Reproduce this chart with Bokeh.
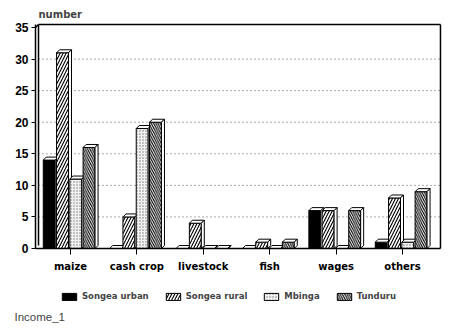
from bokeh.plotting import figure
from bokeh.models import (Range1d, FixedTicker, Legend, LegendItem, Label,
                          ColumnDataSource)
from bokeh.embed import file_html
from bokeh.resources import INLINE

categories = ["maize", "cash crop", "livestock", "fish", "wages", "others"]
series = ["Songea urban", "Songea rural", "Mbinga", "Tunduru"]
songea_urban = [14, 0, 0, 0, 6, 1]
songea_rural = [31, 5, 4, 1, 6, 8]
mbinga = [11, 19, 0, 0, 0, 1]
tunduru = [16, 20, 0, 1, 6, 9]
y_ticks = [0, 5, 10, 15, 20, 25, 30, 35]
grid_ticks = [5, 10, 15, 20, 25, 30]
values = [songea_urban, songea_rural, mbinga, tunduru]

styles = [
    dict(fill_color="black"),
    dict(fill_color="white", hatch_pattern="/", hatch_scale=6, hatch_weight=1.1, hatch_color="black"),
    dict(fill_color="#f2f2f2", hatch_pattern=".", hatch_scale=3, hatch_weight=1, hatch_color="#777777"),
    dict(fill_color="white", hatch_pattern="\\", hatch_scale=4.5, hatch_weight=1.1, hatch_color="black"),
]

W, H = 450, 330
PX_X = 66.4     # pixels per category
PX_Y = 6.314    # pixels per unit
X0_PX, Y0_PX = 35, 248   # canvas position of the plot-area origin
XL, XR, YT = -0.027, 6.072, 35.475  # plot-area limits in data units


def dx_px(px):
    return XL + (px - X0_PX) / PX_X


def dy_px(py):
    return (Y0_PX - py) / PX_Y


p = figure(width=W, height=H, output_backend="svg", toolbar_location=None,
           x_range=Range1d(dx_px(0), dx_px(W)), y_range=Range1d(dy_px(H), dy_px(0)),
           min_border=0, min_border_left=0, min_border_right=0,
           min_border_top=0, min_border_bottom=0)
p.outline_line_color = None
p.background_fill_color = "white"
p.border_fill_color = "white"
p.xgrid.grid_line_color = None
p.ygrid.grid_line_color = None

# y axis drawn at the left edge of the plot area
p.yaxis.fixed_location = XL
p.yaxis.bounds = (0, YT)
p.yaxis.ticker = FixedTicker(ticks=y_ticks)
p.yaxis.major_label_text_font = "Liberation Sans"
p.yaxis.major_label_text_font_style = "bold"
p.yaxis.major_label_text_font_size = "12px"
p.yaxis.major_label_text_color = "black"
p.yaxis.major_tick_in = 0
p.yaxis.major_tick_out = 4
p.yaxis.minor_tick_line_color = None
p.yaxis.axis_line_width = 1.5
p.yaxis.major_label_standoff = 3

# x axis drawn at zero
p.xaxis.fixed_location = 0
p.xaxis.bounds = (XL, XR)
p.xaxis.ticker = FixedTicker(ticks=[i + 0.5 for i in range(len(categories))])
p.xaxis.major_label_overrides = {i + 0.5: c for i, c in enumerate(categories)}
p.xaxis.major_label_text_font = "DejaVu Sans"
p.xaxis.major_label_text_font_style = "bold"
p.xaxis.major_label_text_font_size = "10px"
p.xaxis.major_label_text_color = "black"
p.xaxis.major_tick_in = 0
p.xaxis.major_tick_out = 6
p.xaxis.minor_tick_line_color = None
p.xaxis.axis_line_width = 1.5
p.xaxis.major_label_standoff = 6

# dotted grid lines
p.segment(x0=[dx_px(38)] * len(grid_ticks), x1=[XR] * len(grid_ticks),
          y0=grid_ticks, y1=grid_ticks, line_color="#555555", line_width=1,
          line_dash="1 3")

# frame of the plot area (3D box)
p.segment(x0=[XL, dx_px(38), dx_px(38), XR],
          x1=[dx_px(38), XR, dx_px(38), XR],
          y0=[YT - 3 / PX_Y, YT, YT, YT],
          y1=[YT, YT, 3 / PX_Y, 0],
          line_color="black", line_width=1.5)

ddx = 3 / PX_X
ddy = 3 / PX_Y
offsets = [-0.41, -0.21, -0.01, 0.19]
bw = 0.18

legend_items = []
for si, vals in enumerate(values):
    lefts = [i + 0.5 + offsets[si] for i in range(len(categories))]
    rights = [l + bw for l in lefts]
    src = ColumnDataSource(dict(left=lefts, right=rights, top=vals, bottom=[0] * len(vals)))
    r = p.quad(left="left", right="right", top="top", bottom="bottom", source=src,
               line_color="black", line_width=1, **styles[si])
    tops_x = [[l, l + ddx, rr + ddx, rr] for l, rr in zip(lefts, rights)]
    tops_y = [[v, v + ddy, v + ddy, v] for v in vals]
    side_x = [[rr, rr + ddx, rr + ddx, rr] for rr in rights]
    side_y = [[0, ddy, v + ddy, v] for v in vals]
    p.patches(tops_x, tops_y, fill_color="white", line_color="black", line_width=1)
    p.patches(side_x, side_y, fill_color="white", line_color="black", line_width=1)
    legend_items.append(LegendItem(label=series[si], renderers=[r]))

legend = Legend(items=legend_items, orientation="horizontal", location=(60, H - 301),
                padding=0, margin=0, spacing=15, label_standoff=4,
                glyph_width=18, glyph_height=9,
                label_text_font="DejaVu Sans", label_text_font_style="bold",
                label_text_font_size="8.5px", label_height=10,
                border_line_color=None, background_fill_alpha=0)
p.add_layout(legend, "center")

p.add_layout(Label(x=dx_px(38), y=dy_px(14), text="number", text_font="DejaVu Sans",
                   text_font_style="bold", text_font_size="10px",
                   text_baseline="middle"))
p.add_layout(Label(x=dx_px(14), y=dy_px(316), text="Income_1", text_font="Liberation Sans",
                   text_font_size="11.5px", text_baseline="middle"))

open("out.html", "w").write(file_html(p, INLINE))
